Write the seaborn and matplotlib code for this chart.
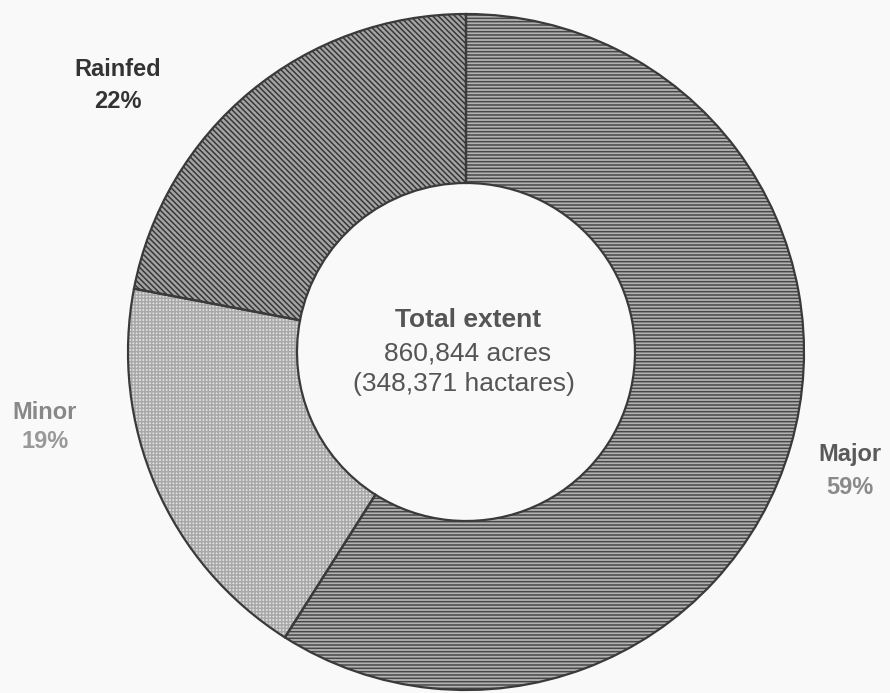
import matplotlib
matplotlib.use("Agg")
import matplotlib.pyplot as plt
import seaborn as sns

# DATA
categories = ["Major", "Minor", "Rainfed"]
shares = [59, 19, 22]
center_lines = ["Total extent", "860,844 acres", "(348,371 hactares)"]

# STYLE
sns.set_theme(style="white")
plt.rcParams["font.family"] = ["Liberation Sans", "DejaVu Sans"]
plt.rcParams["hatch.linewidth"] = 1.1

face_colors = ["#b2b2b2", "#e2e2e2", "#a4a4a4"]
hatch_colors = ["#484848", "#a8a8a8", "#383838"]
hatches = ["-----", "+++++", "\\\\\\\\\\\\"]

fig = plt.figure(figsize=(8.9, 6.93), dpi=100)
fig.patch.set_facecolor("#f9f9f9")

# pie centred at about (466, 352) px, radius 338 px
ax = fig.add_axes([128 / 890, 3 / 693, 676 / 890, 676 / 693])

# hatched fill
wedges, _ = ax.pie(shares, startangle=90, counterclock=False, radius=1,
                   wedgeprops={"width": 0.5, "linewidth": 0})
for w, fc, hc, h in zip(wedges, face_colors, hatch_colors, hatches):
    w.set_facecolor(fc)
    w.set_edgecolor(hc)
    w.set_hatch(h)

# outlines
ax.pie(shares, startangle=90, counterclock=False, radius=1,
       wedgeprops={"width": 0.5, "linewidth": 1.6, "edgecolor": "#3a3a3a",
                   "facecolor": "none"})

ax.set_xlim(-1, 1)
ax.set_ylim(-1, 1)
ax.set_aspect("equal")
ax.axis("off")

# centre text
fig.text(468 / 890, 1 - 320 / 693, center_lines[0], ha="center", va="center",
         fontsize=19, fontweight="bold", color="#555555")
fig.text(468 / 890, 1 - 353 / 693, center_lines[1], ha="center", va="center",
         fontsize=19, color="#555555")
fig.text(464 / 890, 1 - 384 / 693, center_lines[2], ha="center", va="center",
         fontsize=19, color="#555555")

# slice labels
label_pos = {"Rainfed": (118, 69, 102), "Minor": (45, 413, 441),
             "Major": (850, 455, 488)}
label_col = {"Rainfed": ("#333333", "#333333"), "Minor": ("#888888", "#999999"),
             "Major": ("#5a5a5a", "#8a8a8a")}
for cat, val in zip(categories, shares):
    px, py1, py2 = label_pos[cat]
    c1, c2 = label_col[cat]
    fig.text(px / 890, 1 - py1 / 693, cat, ha="center", va="center",
             fontsize=17, fontweight="bold", color=c1)
    fig.text(px / 890, 1 - py2 / 693, f"{val}%", ha="center", va="center",
             fontsize=17, fontweight="bold", color=c2)

fig.savefig("out.png", dpi=100, facecolor=fig.get_facecolor())
